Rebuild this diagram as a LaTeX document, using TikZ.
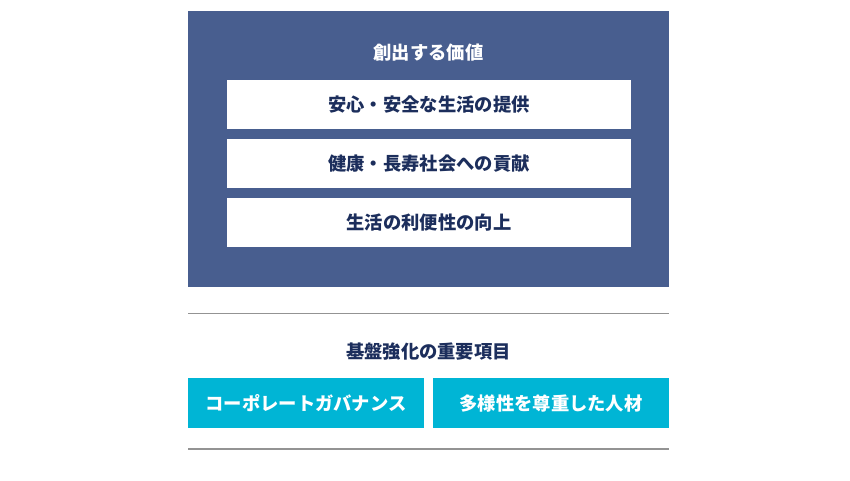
\documentclass[tikz,border=0pt]{standalone}
\usepackage{fontspec}
\newfontfamily\jp{Noto Sans CJK JP}
\definecolor{navy}{HTML}{485E8F}
\definecolor{navytext}{HTML}{1C2E5C}
\definecolor{cyanbox}{HTML}{00B5D5}
\definecolor{rule}{HTML}{939393}
\begin{document}
\begin{tikzpicture}[x=1pt,y=-1pt,
  valuebox/.style={fill=white,draw=none,minimum width=404pt,minimum height=49pt,inner sep=0pt,font=\jp\bfseries\fontsize{18.3}{21}\selectfont,text=navytext},
  basebox/.style={fill=cyanbox,draw=none,minimum width=236pt,minimum height=50pt,inner sep=0pt,font=\jp\bfseries\fontsize{18.3}{21}\selectfont,text=white},
  heading/.style={font=\jp\bfseries\fontsize{18.3}{21}\selectfont,inner sep=0pt},
  sep/.style={draw=rule,line width=1.4pt}]
\useasboundingbox (0,0) rectangle (850,481);
\fill[white] (0,0) rectangle (850,481);
\fill[navy] (188,11) rectangle (669,287);
\node[heading,text=white] (t1) at (428.5,53) {創出する価値};
\node[valuebox] (v1) at (429,104.5) {安心・安全な生活の提供};
\node[valuebox] (v2) at (429,163.5) {健康・長寿社会への貢献};
\node[valuebox] (v3) at (429,222.5) {生活の利便性の向上};
\coordinate (r1a) at (188,313.5);
\coordinate (r1b) at (669,313.5);
\draw[sep] (r1a) -- (r1b);
\node[heading,text=navytext] (t2) at (428.5,352) {基盤強化の重要項目};
\node[basebox] (b1) at (306,403) {コーポレートガバナンス};
\node[basebox] (b2) at (551,403) {多様性を尊重した人材};
\coordinate (r2a) at (188,449);
\coordinate (r2b) at (669,449);
\draw[sep] (r2a) -- (r2b);
\end{tikzpicture}
\end{document}
